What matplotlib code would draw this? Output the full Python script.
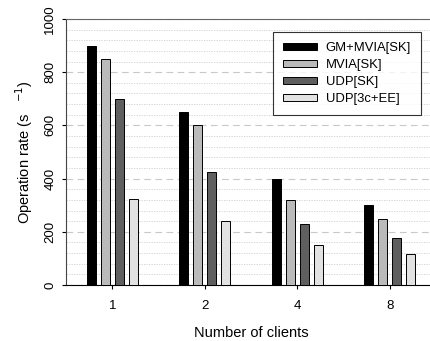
import numpy as np
import matplotlib as mpl
mpl.use("Agg")
import matplotlib.pyplot as plt
from matplotlib.ticker import MultipleLocator

plt.rcParams['font.family'] = ['Liberation Sans', 'DejaVu Sans']

clients = ['1', '2', '4', '8']
series = ['GM+MVIA[SK]', 'MVIA[SK]', 'UDP[SK]', 'UDP[3c+EE]']
gm_mvia = [900, 650, 400, 300]
mvia = [850, 600, 320, 250]
udp_sk = [700, 425, 230, 175]
udp_ee = [325, 240, 150, 115]
colors = ['#000000', '#bababa', '#5f5f5f', '#e2e2e2']

fig = plt.figure(figsize=(4.30, 3.41), dpi=100)
ax = fig.add_axes([66/430, 1-285/341, 370/430, 266/341])

x = np.arange(len(clients))
w = 0.1
step = 0.151
for i, (vals, lab) in enumerate(zip([gm_mvia, mvia, udp_sk, udp_ee], series)):
    ax.bar(x + (i - 1.5) * step, vals, width=w, color=colors[i],
           edgecolor='black', linewidth=0.7, label=lab, zorder=3)

ax.set_xlim(-0.5, 3.5)
ax.set_ylim(0, 1000)
ax.set_xticks(x)
ax.set_xticklabels(clients, fontsize=9.5)
ax.yaxis.set_major_locator(MultipleLocator(200))
ax.yaxis.set_minor_locator(MultipleLocator(40))
ax.tick_params(axis='y', which='major', labelsize=9.5, labelrotation=90, length=3, pad=4)
ax.tick_params(axis='y', which='minor', length=0)
ax.tick_params(axis='x', length=3, pad=8)
for t in ax.get_yticklabels():
    t.set_va('center')

ax.grid(axis='y', which='major', linestyle=(0, (6, 4)), color='#c8c8c8', linewidth=0.8, zorder=0)
ax.grid(axis='y', which='minor', linestyle=(0, (1.5, 1.5)), color='#cfcfcf', linewidth=0.6, zorder=0)

ax.spines['top'].set_color('#666666')
ax.spines['left'].set_color('#444444')
ax.spines['bottom'].set_color('black')
ax.spines['right'].set_visible(False)

ax.set_xlabel('Number of clients', fontsize=10.5, labelpad=10)
ax.set_ylabel(r'Operation rate (s   $^{-1}$)', fontsize=10.5, labelpad=7)

leg = ax.legend(loc='upper right', bbox_to_anchor=(0.9586, 0.951), borderaxespad=0,
                fontsize=9.4, frameon=True, fancybox=False, edgecolor='black',
                handlelength=2.6, handleheight=0.45, labelspacing=0.4,
                borderpad=0.75, handletextpad=0.7)
leg.get_frame().set_linewidth(0.8)

plt.savefig('out.png', dpi=100)
